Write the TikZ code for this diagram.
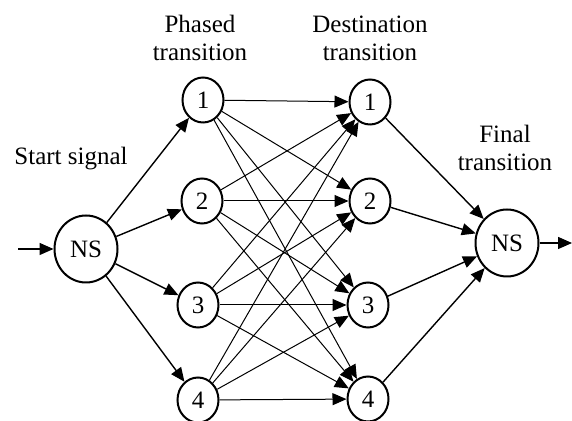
\documentclass[tikz,border=0pt]{standalone}
\usepackage{fontspec}
\setmainfont{Liberation Serif}
\usetikzlibrary{arrows.meta,shapes.geometric}
\begin{document}
\begin{tikzpicture}[x=0.5pt,y=-0.5pt,
  st/.style={draw,ellipse,line width=1pt,inner sep=0pt,minimum width=20.5pt,minimum height=22.5pt,font=\fontsize{12.5}{14}\selectfont},
  big/.style={st,minimum width=31.5pt,minimum height=33.5pt},
  lbl/.style={align=center,font=\fontsize{12.5}{14}\selectfont},
  arr/.style={-{Triangle[length=7pt,width=6pt]},line width=0.7pt},
  thin/.style={-{Triangle[length=7pt,width=6pt]},line width=0.5pt}]
\useasboundingbox (0,0) rectangle (572,421);
\node[big] (s) at (86,249) {NS};
\node[big] (f) at (507,243) {NS};
\node[st] (p1) at (203,100) {1};
\node[st] (p2) at (202,201) {2};
\node[st] (p3) at (198,305) {3};
\node[st] (p4) at (198,400) {4};
\node[st] (d1) at (370,102) {1};
\node[st] (d2) at (370,201) {2};
\node[st] (d3) at (368,305) {3};
\node[st] (d4) at (368,399) {4};
\coordinate (in) at (18,249);
\coordinate (out) at (572,243);
\node[lbl] (lp) at (200,38) {Phased\\transition};
\node[lbl] (ld) at (370,38) {Destination\\transition};
\node[lbl] (lf) at (505,148) {Final\\transition};
\node[lbl] (ls) at (71,159) {Start signal};
\draw[arr] (in) -- (s);
\draw[arr] (f) -- (out);
\foreach \i in {1,...,4}{
  \draw[arr] (s) -- (p\i);
  \draw[arr] (d\i) -- (f);
  \foreach \j in {1,...,4}{
    \draw[thin] (p\i) -- (d\j);
  }
}
\end{tikzpicture}
\end{document}
